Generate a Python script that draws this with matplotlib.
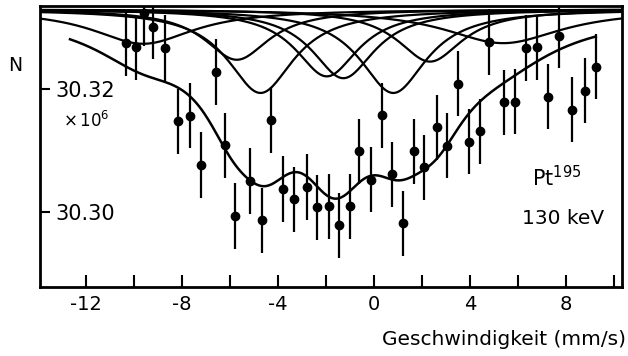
import numpy as np
import matplotlib.pyplot as plt

plt.rcParams['font.family'] = 'DejaVu Sans'
plt.rcParams['axes.unicode_minus'] = False
plt.rcParams['mathtext.fontset'] = 'dejavusans'

# measured counts N (x 10^6) against source velocity in mm/s
velocity = [-10.33, -9.92, -9.58, -9.21, -8.71, -8.17, -7.67, -7.23, -6.60, -6.21,
            -5.79, -5.17, -4.69, -4.29, -3.80, -3.33, -2.80, -2.36, -1.89, -1.47,
            -1.00, -0.63, -0.14, 0.32, 0.76, 1.20, 1.67, 2.10, 2.61, 3.04,
            3.51, 3.96, 4.42, 4.80, 5.42, 5.89, 6.32, 6.78, 7.24, 7.72,
            8.24, 8.79, 9.24]
counts = [30.3275, 30.3268, 30.3324, 30.3302, 30.3267, 30.3148, 30.3157, 30.3077, 30.3228, 30.3109,
          30.2994, 30.3051, 30.2987, 30.3150, 30.3038, 30.3021, 30.3041, 30.3008, 30.3010, 30.2979,
          30.3010, 30.3099, 30.3053, 30.3158, 30.3062, 30.2982, 30.3099, 30.3073, 30.3138, 30.3108,
          30.3209, 30.3115, 30.3132, 30.3277, 30.3179, 30.3180, 30.3267, 30.3268, 30.3188, 30.3287,
          30.3167, 30.3198, 30.3237]
count_err = 0.0053

# single lines as drawn along the top (Lorentzians)
comp_pos = [-9.62, -5.72, -4.73, -1.97, -1.28, 0.80, 2.33, 5.38]
comp_depth = [0.0056, 0.0082, 0.0136, 0.0109, 0.0112, 0.0136, 0.0085, 0.0055]
comp_hwhm = [2.6, 1.65, 1.7, 1.6, 1.6, 1.7, 1.65, 3.0]
comp_base = 30.3330

# lines of the fitted total curve
fit_pos = [-9.62, -5.9, -4.5, -1.97, -1.28, 1.0, 2.6, 5.2]
fit_depth = [0.0056, 0.0097, 0.0146, 0.0098, 0.0098, 0.0127, 0.0101, 0.0055]
fit_hwhm = [2.6, 1.65, 1.7, 1.6, 1.6, 1.7, 1.65, 3.0]
fit_base = 30.3325
fit_range = (-12.67, 9.24)


def lorentz(x, x0, depth, w):
    return depth / (1 + ((x - x0) / w) ** 2)


fig = plt.figure(figsize=(6.28, 3.56), dpi=100)
ax = fig.add_axes([0.0637, 0.1938, 0.9267, 0.7893])

grid = np.linspace(-14.5, 11, 600)
for x0, d, w in zip(comp_pos, comp_depth, comp_hwhm):
    ax.plot(grid, comp_base - lorentz(grid, x0, d, w), color='black', lw=1.6)

xf = np.linspace(fit_range[0], fit_range[1], 400)
total = sum(lorentz(xf, x0, d, w) for x0, d, w in zip(fit_pos, fit_depth, fit_hwhm))
ax.plot(xf, fit_base - total, color='black', lw=1.8)

ax.errorbar(velocity, counts, yerr=count_err, fmt='o', color='black',
            ms=6, elinewidth=1.6, capsize=0)

ax.set_xlim(-13.92, 10.33)
ax.set_ylim(30.28785, 30.33354)

ax.set_xticks(np.arange(-12, 11, 2))
ax.set_xticklabels(['-12', '', '-8', '', '-4', '', '0', '', '4', '', '8', ''])
ax.tick_params(axis='x', direction='in', length=9, width=1.5, labelsize=14, pad=6)
ax.set_yticks([30.30, 30.32])
ax.set_yticklabels(['30.30', '30.32'])
ax.tick_params(axis='y', direction='in', length=7, width=1.5, labelsize=15, pad=-11)
for lbl in ax.get_yticklabels():
    lbl.set_horizontalalignment('left')
for s in ax.spines.values():
    s.set_linewidth(2)

ax.set_xlabel('Geschwindigkeit (mm/s)', fontsize=14.5, ha='right')
ax.xaxis.set_label_coords(1.007, -0.153)

fig.text(0.024, 0.817, 'N', fontsize=13.5, ha='center', va='center')
fig.text(0.100, 0.660, r'$\times\,10^6$', fontsize=12, ha='left', va='center')
ax.text(0.847, 0.50, r'Pt$^{195}$', transform=fig.transFigure, fontsize=15, ha='left', va='center')
ax.text(0.8965, 0.385, '130 keV', transform=fig.transFigure, fontsize=14.5, ha='center', va='center')

fig.savefig('out.png', dpi=100)
